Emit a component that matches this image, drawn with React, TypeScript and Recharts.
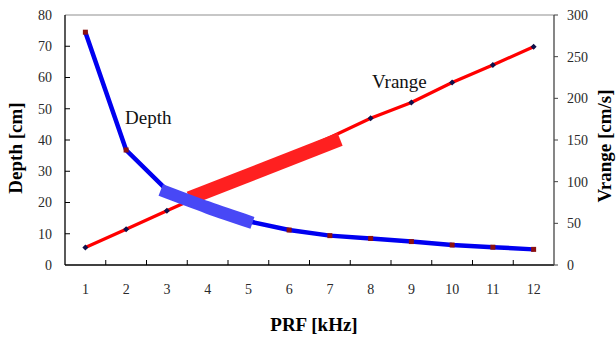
import React from 'react';
import { ComposedChart, Line, XAxis, YAxis, ReferenceLine } from 'recharts';

const prf = [1, 2, 3, 4, 5, 6, 7, 8, 9, 10, 11, 12];
const depth = [74.5, 36.8, 24, 18.5, 14, 11.2, 9.4, 8.5, 7.5, 6.4, 5.7, 5.0];
const vrange = [21, 43, 65, 87, 109, 131, 153, 176, 195, 219, 240, 262];
const depthBandX = [2.85, 4, 5.1];
const depthBandV = [24, 18.4, 13.5];
const vrangeBandX = [3.55, 7.25];
const vrangeBandV = [80, 151];
const xMarkTicks = [1.5, 2.5, 3.5, 4.5, 5.5, 6.5, 7.5, 8.5, 9.5, 10.5, 11.5];
const depthTicks = [0, 10, 20, 30, 40, 50, 60, 70, 80];
const vrangeTicks = [0, 50, 100, 150, 200, 250, 300];

const depthData = prf.map((x, i) => ({ x, v: depth[i] }));
const vrangeData = prf.map((x, i) => ({ x, v: vrange[i] }));
const depthBand = depthBandX.map((x, i) => ({ x, v: depthBandV[i] }));
const vrangeBand = vrangeBandX.map((x, i) => ({ x, v: vrangeBandV[i] }));
const xTicks = [...prf, ...xMarkTicks].sort((a, b) => a - b);

const inRange = (x: number, xs: number[]) => x >= Math.min(...xs) && x <= Math.max(...xs);

const SERIF = '"Liberation Serif", "Times New Roman", serif';
const TICK_FILL = '#2a2a2a';

const XTick = (props: any) => {
  const { x, y, payload } = props;
  const v = payload.value;
  if (Number.isInteger(v)) {
    return (
      <text x={x} y={y + 29} textAnchor="middle" fill={TICK_FILL} fontSize={14} fontFamily={SERIF}>
        {v}
      </text>
    );
  }
  return <line x1={x} x2={x} y1={y - 5} y2={y} stroke="#000" strokeWidth={1} />;
};

const LeftTick = (props: any) => {
  const { x, y, payload } = props;
  return (
    <g>
      {payload.value !== 0 && payload.value !== 80 ? (
        <line x1={x} x2={x + 5} y1={y} y2={y} stroke="#000" strokeWidth={1} />
      ) : null}
      <text x={x - 13} y={y} dy="0.35em" textAnchor="end" fill={TICK_FILL} fontSize={14} fontFamily={SERIF}>
        {payload.value}
      </text>
    </g>
  );
};

const SquareDot = (props: any) => {
  const { cx, cy, index, payload } = props;
  if (cx == null || cy == null || inRange(payload.x, depthBandX)) return <g key={index} />;
  return <rect key={index} x={cx - 2.5} y={cy - 2.5} width={5} height={5} fill="#8b1010" />;
};

const DiamondDot = (props: any) => {
  const { cx, cy, index, payload } = props;
  if (cx == null || cy == null || inRange(payload.x, vrangeBandX)) return <g key={index} />;
  return (
    <path
      key={index}
      d={`M${cx},${cy - 3}L${cx + 3},${cy}L${cx},${cy + 3}L${cx - 3},${cy}Z`}
      fill="#10104a"
    />
  );
};

export default function App() {
  return (
    <div style={{ position: 'absolute', left: 0, top: 0 }}>
      <ComposedChart width={616} height={338} margin={{ top: 15, right: 0, bottom: 0, left: 0 }}>
        <XAxis
          dataKey="x"
          type="number"
          domain={[0.5, 12.5]}
          allowDataOverflow
          ticks={xTicks}
          interval={0}
          tick={XTick}
          tickLine={false}
          tickSize={0}
          tickMargin={0}
          height={73}
          axisLine={{ stroke: '#000', strokeWidth: 1.3 }}
        />
        <YAxis
          yAxisId="left"
          domain={[0, 80]}
          ticks={depthTicks}
          interval={0}
          width={65}
          tick={LeftTick}
          tickLine={false}
          tickSize={0}
          tickMargin={0}
          axisLine={{ stroke: '#000', strokeWidth: 1.3 }}
        />
        <YAxis
          yAxisId="right"
          orientation="right"
          domain={[0, 300]}
          ticks={vrangeTicks}
          interval={0}
          width={62}
          tickSize={4}
          tickMargin={9}
          tickLine={{ stroke: '#444' }}
          axisLine={{ stroke: '#444', strokeWidth: 1.3 }}
          tick={{ fill: TICK_FILL, fontSize: 14, fontFamily: SERIF }}
        />
        <ReferenceLine yAxisId="left" y={80} stroke="#b4b4b4" strokeWidth={1.5} />
        <Line
          yAxisId="right"
          data={vrangeData}
          dataKey="v"
          type="linear"
          stroke="#ff0000"
          strokeWidth={3.2}
          dot={DiamondDot}
          activeDot={false}
          isAnimationActive={false}
        />
        <Line
          yAxisId="left"
          data={depthData}
          dataKey="v"
          type="linear"
          stroke="#0000f0"
          strokeWidth={4.5}
          dot={SquareDot}
          activeDot={false}
          isAnimationActive={false}
        />
        <Line
          yAxisId="right"
          data={vrangeBand}
          dataKey="v"
          type="linear"
          stroke="#ff2020"
          strokeWidth={14}
          strokeLinecap="butt"
          dot={false}
          activeDot={false}
          isAnimationActive={false}
        />
        <Line
          yAxisId="left"
          data={depthBand}
          dataKey="v"
          type="monotone"
          stroke="#4848f6"
          strokeWidth={12.5}
          strokeLinecap="butt"
          dot={false}
          activeDot={false}
          isAnimationActive={false}
        />
        <text x={125} y={124} fontSize={19} fontFamily={SERIF} fill="#111">Depth</text>
        <text x={372} y={88} fontSize={19} fontFamily={SERIF} fill="#111">Vrange</text>
        <text x={314} y={331} textAnchor="middle" fontSize={19} fontWeight="bold" fontFamily={SERIF} fill="#000">
          PRF [kHz]
        </text>
        <text
          x={22}
          y={148}
          transform="rotate(-90 22 148)"
          textAnchor="middle"
          fontSize={19}
          fontWeight="bold"
          fontFamily={SERIF}
          fill="#000"
        >
          Depth [cm]
        </text>
        <text
          x={611}
          y={146}
          transform="rotate(-90 611 146)"
          textAnchor="middle"
          fontSize={19}
          fontWeight="bold"
          fontFamily={SERIF}
          fill="#000"
        >
          Vrange [cm/s]
        </text>
      </ComposedChart>
    </div>
  );
}
